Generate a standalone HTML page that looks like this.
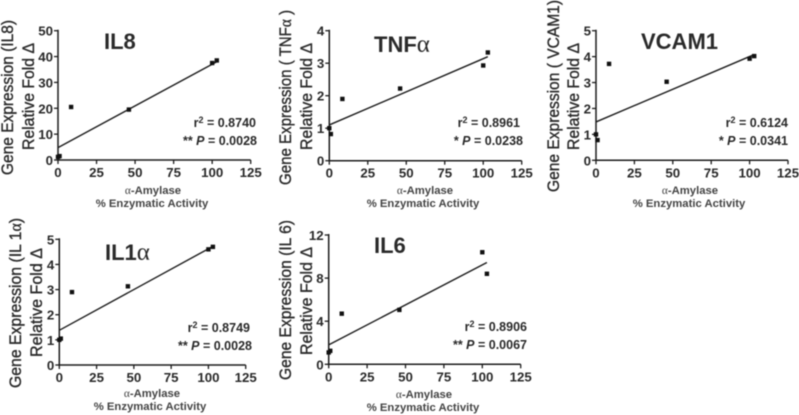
<!DOCTYPE html>
<html>
<head>
<meta charset="utf-8">
<style>
html,body{margin:0;padding:0;background:#fff;width:799px;height:415px;overflow:hidden}
svg{display:block;filter:blur(.4px)}
text{font-family:"Liberation Sans",sans-serif;fill:#2a2a2a}
.yt{font-size:16.5px;stroke:#2a2a2a;stroke-width:.35px}
.title{font-size:22px;font-weight:bold}
.stat{font-size:12.5px;font-weight:bold}
.xt{font-size:11.3px;font-weight:bold;text-anchor:middle;fill:#444}
.tick{font-size:13.3px;font-weight:bold}
.greek{font-family:"Liberation Serif",serif;font-weight:normal}
.title .greek{font-size:25px}
</style>
</head>
<body>
<svg id="figure" width="799" height="415" viewBox="0 0 799 415" xmlns="http://www.w3.org/2000/svg">
<rect width="799" height="415" fill="#fff"/>

<g id="panel-il8">
<text class="yt" transform="translate(13,175) rotate(-90)" textLength="155" lengthAdjust="spacingAndGlyphs">Gene Expression (IL8)</text>
<text class="yt" transform="translate(34,150) rotate(-90)" textLength="107" lengthAdjust="spacingAndGlyphs">Relative Fold Δ</text>
<text class="title" x="104" y="49">IL8</text>
<text class="stat" x="256" y="127" text-anchor="end">r<tspan dy="-4" font-size="9">2</tspan><tspan dy="4"> = 0.8740</tspan></text>
<text class="stat" x="257" y="145" text-anchor="end">** <tspan font-style="italic">P</tspan> = 0.0028</text>
<text class="xt" x="153" y="194"><tspan class="greek">α</tspan>-Amylase</text>
<text class="xt" x="152" y="207">% Enzymatic Activity</text>
</g>

<g id="panel-tnf">
<text class="yt" transform="translate(291,185) rotate(-90)" textLength="175" lengthAdjust="spacingAndGlyphs">Gene Expression ( TNF<tspan class="greek">α</tspan> )</text>
<text class="yt" transform="translate(312,150) rotate(-90)" textLength="107" lengthAdjust="spacingAndGlyphs">Relative Fold Δ</text>
<text class="title" x="374" y="52">TNF<tspan class="greek">α</tspan></text>
<text class="stat" x="520" y="127" text-anchor="end">r<tspan dy="-4" font-size="9">2</tspan><tspan dy="4"> = 0.8961</tspan></text>
<text class="stat" x="523" y="145" text-anchor="end">* <tspan font-style="italic">P</tspan> = 0.0238</text>
<text class="xt" x="425" y="194"><tspan class="greek">α</tspan>-Amylase</text>
<text class="xt" x="423" y="207">% Enzymatic Activity</text>
</g>

<g id="panel-vcam">
<text class="yt" transform="translate(559,192) rotate(-90)" textLength="192" lengthAdjust="spacingAndGlyphs">Gene Expression ( VCAM1)</text>
<text class="yt" transform="translate(579,150) rotate(-90)" textLength="107" lengthAdjust="spacingAndGlyphs">Relative Fold Δ</text>
<text class="title" x="641" y="49">VCAM1</text>
<text class="stat" x="788" y="127" text-anchor="end">r<tspan dy="-4" font-size="9">2</tspan><tspan dy="4"> = 0.6124</tspan></text>
<text class="stat" x="788" y="145" text-anchor="end">* <tspan font-style="italic">P</tspan> = 0.0341</text>
<text class="xt" x="690" y="194"><tspan class="greek">α</tspan>-Amylase</text>
<text class="xt" x="689" y="207">% Enzymatic Activity</text>
</g>

<g id="panel-il1">
<text class="yt" transform="translate(21,388) rotate(-90)" textLength="170" lengthAdjust="spacingAndGlyphs">Gene Expression (IL 1<tspan class="greek">α</tspan>)</text>
<text class="yt" transform="translate(42,357) rotate(-90)" textLength="109" lengthAdjust="spacingAndGlyphs">Relative Fold Δ</text>
<text class="title" x="105" y="260">IL1<tspan class="greek">α</tspan></text>
<text class="stat" x="250" y="332" text-anchor="end">r<tspan dy="-4" font-size="9">2</tspan><tspan dy="4"> = 0.8749</tspan></text>
<text class="stat" x="252" y="350" text-anchor="end">** <tspan font-style="italic">P</tspan> = 0.0028</text>
<text class="xt" x="152" y="397"><tspan class="greek">α</tspan>-Amylase</text>
<text class="xt" x="150" y="410">% Enzymatic Activity</text>
</g>

<g id="panel-il6">
<text class="yt" transform="translate(291,380) rotate(-90)" textLength="160" lengthAdjust="spacingAndGlyphs">Gene Expression (IL 6)</text>
<text class="yt" transform="translate(312,355) rotate(-90)" textLength="108" lengthAdjust="spacingAndGlyphs">Relative Fold Δ</text>
<text class="title" x="374" y="253">IL6</text>
<text class="stat" x="527" y="331" text-anchor="end">r<tspan dy="-4" font-size="9">2</tspan><tspan dy="4"> = 0.8906</tspan></text>
<text class="stat" x="527" y="349" text-anchor="end">** <tspan font-style="italic">P</tspan> = 0.0067</text>
<text class="xt" x="424" y="398"><tspan class="greek">α</tspan>-Amylase</text>
<text class="xt" x="423" y="411">% Enzymatic Activity</text>
</g>
</svg>

<script>
const enzymaticActivity = [0, 1, 8.5, 46, 100, 103];
const xTickLabels = [0, 25, 50, 75, 100, 125];
const fitRange = [0, 103];

const il8Values = [1.2, 1.5, 20.5, 19.5, 37.5, 38.5];
const il8Fit = [4.8, 38];
const il8Ticks = [0, 10, 20, 30, 40, 50];

const tnfValues = [1.0, 0.82, 1.9, 2.22, 2.93, 3.33];
const tnfFit = [1.1, 3.2];
const tnfTicks = [0, 1, 2, 3, 4];

const vcamValues = [1.0, 0.78, 3.72, 3.03, 3.92, 4.02];
const vcamFit = [1.48, 4.08];
const vcamTicks = [0, 1, 2, 3, 4, 5];

const il1Values = [1.0, 1.05, 2.9, 3.13, 4.6, 4.7];
const il1Fit = [1.38, 4.72];
const il1Ticks = [0, 1, 2, 3, 4, 5];

const il6Values = [1.1, 1.25, 4.7, 5.05, 10.4, 8.4];
const il6Fit = [1.8, 9.45];
const il6Ticks = [0, 4, 8, 12];

const SVG_NS = 'http://www.w3.org/2000/svg';

function makeEl(parent, tag, attrs, text) {
  const el = document.createElementNS(SVG_NS, tag);
  Object.keys(attrs).forEach(function (k) { el.setAttribute(k, attrs[k]); });
  if (text !== undefined) el.textContent = text;
  parent.appendChild(el);
  return el;
}

function drawPanel(id, key, left, right, top, bottom, values, fit, yTicks) {
  const panel = document.getElementById(id);
  const xMax = xTickLabels[xTickLabels.length - 1];
  const yMax = yTicks[yTicks.length - 1];
  const sx = function (v) { return left + (v / xMax) * (right - left); };
  const sy = function (v) { return bottom - (v / yMax) * (bottom - top); };
  const ink = '#1c1c1c';

  const xAxis = makeEl(panel, 'line', { x1: left - 1, x2: right, y1: bottom, y2: bottom, stroke: ink, 'stroke-width': 1.5 });
  
  
  const yAxis = makeEl(panel, 'line', { x1: left, x2: left, y1: top - 1, y2: bottom, stroke: ink, 'stroke-width': 1.5 });
  
  

  xTickLabels.forEach(function (t) {
    const mark = makeEl(panel, 'line', { x1: sx(t), x2: sx(t), y1: bottom, y2: bottom + 4, stroke: ink, 'stroke-width': 1.3 });
    
    
    const label = makeEl(panel, 'text', { class: 'tick', x: sx(t), y: bottom + 17, 'text-anchor': 'middle' }, t);
    
    
  });

  yTicks.forEach(function (t) {
    const mark = makeEl(panel, 'line', { x1: left - 4, x2: left, y1: sy(t), y2: sy(t), stroke: ink, 'stroke-width': 1.3 });
    
    
    const label = makeEl(panel, 'text', { class: 'tick', x: left - 5, y: sy(t) + 5, 'text-anchor': 'end' }, t);
    
    
  });

  const line = makeEl(panel, 'line', {
    x1: sx(fitRange[0]), y1: sy(fit[0]),
    x2: sx(fitRange[1]), y2: sy(fit[1]),
    stroke: ink, 'stroke-width': 1.4
  });
  
  

  values.forEach(function (v, i) {
    const size = 4.4;
    const point = makeEl(panel, 'rect', {
      x: sx(enzymaticActivity[i]) - size / 2,
      y: sy(v) - size / 2,
      width: size, height: size, fill: '#111'
    });
    
    
  });
}

drawPanel('panel-il8', 'il8', 58, 250.7, 30.7, 160, il8Values, il8Fit, il8Ticks);
drawPanel('panel-tnf', 'tnf', 329.3, 521.7, 30.7, 160.7, tnfValues, tnfFit, tnfTicks);
drawPanel('panel-vcam', 'vcam', 596, 788, 30.7, 160.3, vcamValues, vcamFit, vcamTicks);
drawPanel('panel-il1', 'il1', 59.3, 245.7, 239.3, 365, il1Values, il1Fit, il1Ticks);
drawPanel('panel-il6', 'il6', 328.7, 520.7, 235, 364.3, il6Values, il6Fit, il6Ticks);
</script>
</body>
</html>
